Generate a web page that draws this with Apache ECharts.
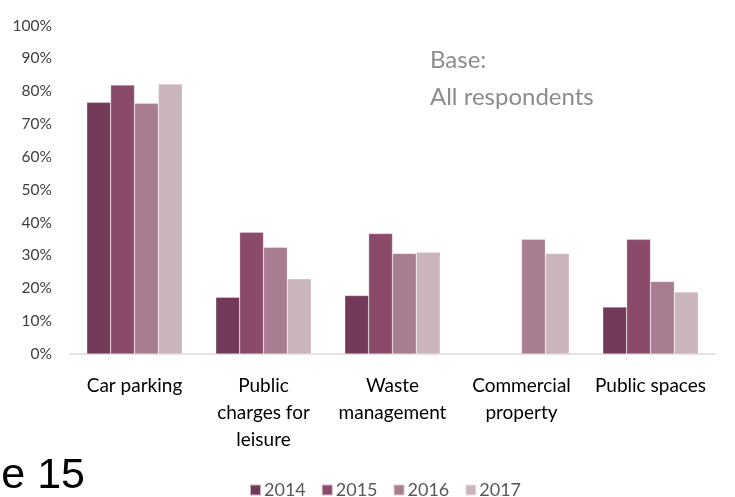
<!DOCTYPE html>
<html>
<head>
<meta charset="utf-8">
<script src="https://cdn.jsdelivr.net/npm/echarts@6/dist/echarts.min.js"></script>
<style>
  html, body { margin: 0; padding: 0; background: #fff; }
  #chart { width: 735px; height: 497px; }
</style>
</head>
<body>
<div id="chart"></div>
<script>
// Service categories on the x axis
const categories = ['Car parking', 'Public\ncharges for\nleisure', 'Waste\nmanagement', 'Commercial\nproperty', 'Public spaces'];

// Share of respondents per year (fractions of 1); null where not asked
const years = ['2014', '2015', '2016', '2017'];
const values2014 = [0.766, 0.173, 0.178, null, 0.143];
const values2015 = [0.819, 0.371, 0.367, null, 0.349];
const values2016 = [0.763, 0.325, 0.306, 0.349, 0.221];
const values2017 = [0.822, 0.229, 0.310, 0.306, 0.189];

const yTicks = [0, 0.1, 0.2, 0.3, 0.4, 0.5, 0.6, 0.7, 0.8, 0.9, 1.0];
const colors = ['#723a58', '#8a4a69', '#a87d8f', '#cab5bd'];

const seriesValues = [values2014, values2015, values2016, values2017];

const chart = echarts.init(document.getElementById('chart'));
chart.setOption({
  animation: false,
  color: colors,
  grid: { left: 70, right: 20, top: 25.5, bottom: 143, containLabel: false },
  legend: {
    data: years,
    bottom: -7,
    left: 244,
    itemWidth: 11,
    itemHeight: 11,
    itemGap: 15,
    icon: 'rect',
    textStyle: { color: '#595959', fontSize: 18, fontFamily: 'Lato', padding: [0, 0, 0, -2] }
  },
  xAxis: {
    type: 'category',
    data: categories,
    axisLine: { lineStyle: { color: '#d9d9d9', width: 1.5 } },
    axisTick: { show: false },
    axisLabel: {
      color: '#000',
      fontSize: 19,
      fontFamily: 'Lato',
      lineHeight: 27,
      margin: 18,
      interval: 0
    }
  },
  yAxis: {
    type: 'value',
    min: yTicks[0],
    max: yTicks[yTicks.length - 1],
    interval: 0.1,
    splitLine: { show: false },
    axisLine: { show: false },
    axisTick: { show: false },
    axisLabel: {
      color: '#404040',
      fontSize: 15.5,
      fontFamily: 'Lato',
      margin: 18,
      formatter: v => Math.round(v * 100) + '%'
    }
  },
  series: seriesValues.map((vals, i) => ({
    name: years[i],
    type: 'bar',
    data: vals,
    barGap: '0%',
    barCategoryGap: '26%',
    itemStyle: { borderColor: 'rgba(255,255,255,0.6)', borderWidth: 0.5 }
  })),
  graphic: [
    {
      type: 'text', left: 430, top: 48,
      style: { text: 'Base:', fill: '#8c8c8c', fontSize: 24, fontFamily: 'Lato' }
    },
    {
      type: 'text', left: 430, top: 85,
      style: { text: 'All respondents', fill: '#8c8c8c', fontSize: 24, fontFamily: 'Lato' }
    },
    {
      type: 'text', x: 85, y: 476,
      style: { text: 'Page 15', fill: '#000', fontSize: 43, fontFamily: 'Liberation Sans', align: 'right', verticalAlign: 'middle' }
    }
  ]
});
</script>
</body>
</html>
